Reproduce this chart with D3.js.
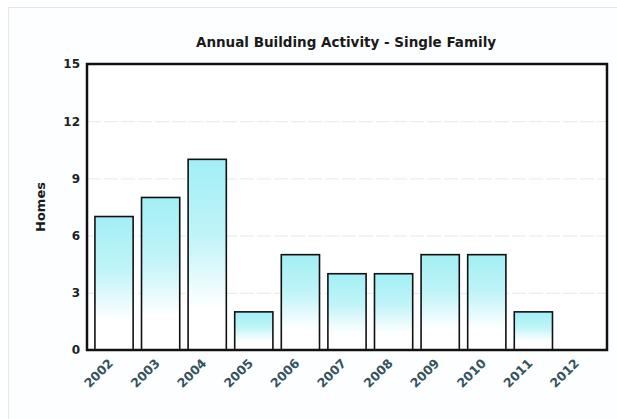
<!DOCTYPE html>
<html>
<head>
<meta charset="utf-8">
<script src="https://cdn.jsdelivr.net/npm/d3@7"></script>
<style>
html,body{margin:0;padding:0;background:#fff;}
svg{display:block;}
</style>
</head>
<body>
<svg id="chart" width="617" height="419"></svg>
<script>
const years = ["2002","2003","2004","2005","2006","2007","2008","2009","2010","2011","2012"];
const homes = [7, 8, 10, 2, 5, 4, 4, 5, 5, 2, 0];
const yTicks = [0, 3, 6, 9, 12, 15];
const title = "Annual Building Activity - Single Family";
const yLabel = "Homes";

const svg = d3.select("#chart");
const W = 617, H = 419;
const m = {left: 87, right: 10, top: 64, bottom: 69};
const FONT = "Verdana, DejaVu Sans, sans-serif";

// outer frame
svg.append("rect").attr("x", 8.5).attr("y", 7.5).attr("width", W).attr("height", H)
  .attr("fill", "#fdfeff").attr("stroke", "#e2e8ef").attr("stroke-width", 1);

const defs = svg.append("defs");
const grad = defs.append("linearGradient").attr("id", "barGrad")
  .attr("x1", 0).attr("y1", 0).attr("x2", 0).attr("y2", 1);
grad.append("stop").attr("offset", "0%").attr("stop-color", "#a2eff5");
grad.append("stop").attr("offset", "40%").attr("stop-color", "#c0f4f8");
grad.append("stop").attr("offset", "78%").attr("stop-color", "#ffffff");
grad.append("stop").attr("offset", "100%").attr("stop-color", "#ffffff");

const x = d3.scaleBand().domain(years).range([m.left, W - m.right])
  .paddingInner(0.18).paddingOuter(0.17);
const y = d3.scaleLinear().domain([0, 15]).range([H - m.bottom, m.top]);

// plot background
svg.append("rect").attr("x", m.left).attr("y", m.top)
  .attr("width", W - m.right - m.left).attr("height", H - m.bottom - m.top).attr("fill", "#fff");

// grid
svg.append("g").selectAll("line").data(yTicks.filter(d => d > 0 && d < 15)).join("line")
  .attr("x1", m.left).attr("x2", W - m.right)
  .attr("y1", d => y(d) + 0.5).attr("y2", d => y(d) + 0.5)
  .attr("stroke", "#e0eaf1").attr("stroke-width", 1).attr("stroke-dasharray", "14,3");

// bars
svg.append("g").selectAll("rect").data(years.map((yr, i) => ({yr, v: homes[i]})).filter(d => d.v > 0)).join("rect")
  .attr("x", d => x(d.yr)).attr("width", x.bandwidth())
  .attr("y", d => y(d.v)).attr("height", d => y(0) - y(d.v))
  .attr("fill", "url(#barGrad)").attr("stroke", "#111").attr("stroke-width", 1.6);

// frame
svg.append("rect").attr("x", m.left).attr("y", m.top)
  .attr("width", W - m.right - m.left).attr("height", H - m.bottom - m.top)
  .attr("fill", "none").attr("stroke", "#111").attr("stroke-width", 2.5);

// y axis
const yAxis = d3.axisLeft(y).tickValues(yTicks).tickSize(0).tickPadding(7);
const gy = svg.append("g").attr("transform", `translate(${m.left},0)`).call(yAxis);
gy.select(".domain").remove();
gy.selectAll("text").attr("font-family", FONT)
  .attr("font-size", 12).attr("font-weight", "bold").attr("fill", "#222");

// x axis
const xAxis = d3.axisBottom(x).tickSize(0).tickPadding(0);
const gx = svg.append("g").attr("transform", `translate(0,${H - m.bottom})`).call(xAxis);
gx.select(".domain").remove();
gx.selectAll("text")
  .attr("font-family", FONT)
  .attr("font-size", 12.5).attr("font-weight", "bold").attr("fill", "#34525c")
  .attr("text-anchor", "end").attr("dy", null).attr("y", 0)
  .attr("transform", "translate(0,14) rotate(-45)");

// title
svg.append("text").attr("x", 346).attr("y", 47).attr("text-anchor", "middle")
  .attr("font-family", FONT).attr("font-size", 13.5)
  .attr("font-weight", "bold").attr("fill", "#1a1a1a").text(title);

// y label
svg.append("text").attr("transform", `translate(45,${(m.top + H - m.bottom) / 2}) rotate(-90)`)
  .attr("text-anchor", "middle")
  .attr("font-family", FONT).attr("font-size", 13)
  .attr("font-weight", "bold").attr("fill", "#1a1a1a").text(yLabel);
</script>
</body>
</html>
